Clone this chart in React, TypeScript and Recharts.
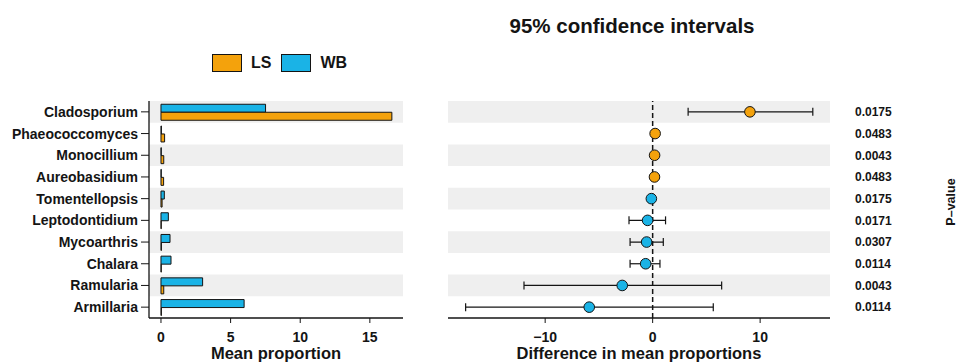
import {
  Bar,
  BarChart,
  ErrorBar,
  ReferenceArea,
  ReferenceLine,
  Scatter,
  ScatterChart,
  XAxis,
  YAxis,
} from "recharts";

// Taxa, top to bottom, with group means (%) and the difference CI panel.
const CATEGORIES = [
  "Cladosporium",
  "Phaeococcomyces",
  "Monocillium",
  "Aureobasidium",
  "Tomentellopsis",
  "Leptodontidium",
  "Mycoarthris",
  "Chalara",
  "Ramularia",
  "Armillaria",
];
const LS_MEAN = [16.58, 0.26, 0.2, 0.19, 0.08, 0.02, 0.03, 0.02, 0.2, 0.03];
const WB_MEAN = [7.51, 0.03, 0.02, 0.02, 0.24, 0.53, 0.65, 0.72, 2.99, 5.97];
const DIFF = [9.05, 0.23, 0.18, 0.17, -0.12, -0.47, -0.56, -0.65, -2.83, -5.9];
const CI_LOW = [3.3, 0.08, 0.06, 0.05, -0.3, -2.2, -2.1, -2.1, -11.97, -17.4];
const CI_HIGH = [14.9, 0.38, 0.3, 0.29, 0.06, 1.2, 0.99, 0.68, 6.42, 5.64];
const P_VALUES = [
  "0.0175",
  "0.0483",
  "0.0043",
  "0.0483",
  "0.0175",
  "0.0171",
  "0.0307",
  "0.0114",
  "0.0043",
  "0.0114",
];
const MEAN_TICKS = [0, 5, 10, 15];
const DIFF_TICKS = [-10, 0, 10];

const ORANGE = "#F4A20C";
const BLUE = "#1AB3E6";
const BAND = "#EFEFEF";
const INK = "#141414";
const FONT = '"Liberation Sans", Arial, Helvetica, sans-serif';

const barData = CATEGORIES.map((name, i) => ({
  name,
  LS: LS_MEAN[i],
  WB: WB_MEAN[i],
}));

const points = CATEGORIES.map((name, i) => ({
  name,
  idx: i,
  diff: DIFF[i],
  err: [DIFF[i] - CI_LOW[i], CI_HIGH[i] - DIFF[i]],
}));
const lsPoints = points.filter((p) => p.diff > 0);
const wbPoints = points.filter((p) => p.diff <= 0);

const shaded = CATEGORIES.map((_, i) => i).filter((i) => i % 2 === 0);

const tickStyle = { fontSize: 14, fontWeight: "bold", fill: INK, fontFamily: FONT };
const titleStyle = { fontSize: 16.5, fontWeight: "bold", fill: INK, fontFamily: FONT };

const dot = (color: string) => (props: any) =>
  <circle cx={props.cx} cy={props.cy} r={5.3} fill={color} stroke={INK} strokeWidth={1} />;

const fmtMinus = (v: number) => (v < 0 ? `\u2212${Math.abs(v)}` : `${v}`);

// bottom tick text, baseline placed a fixed distance below the tick end
const BottomTick = (props: any) => (
  <text
    x={props.x}
    y={props.y + 19}
    textAnchor="middle"
    style={tickStyle}
  >
    {fmtMinus(props.payload.value)}
  </text>
);

function LegendKey({ color, label }: { color: string; label: string }) {
  return (
    <div style={{ display: "flex", alignItems: "center", marginRight: 10 }}>
      <div
        style={{
          width: 28,
          height: 16,
          background: color,
          border: `1.5px solid ${INK}`,
          marginRight: 9,
        }}
      />
      <span style={{ fontSize: 16, fontWeight: "bold", color: INK }}>{label}</span>
    </div>
  );
}

export default function App() {
  return (
    <div
      style={{
        position: "absolute",
        left: 0,
        top: 0,
        width: 960,
        height: 363,
        background: "#fff",
        fontFamily: FONT,
      }}
    >
      <div
        style={{
          position: "absolute",
          left: 432,
          top: 14,
          width: 400,
          textAlign: "center",
          fontSize: 20.5,
          fontWeight: "bold",
          color: INK,
        }}
      >
        95% confidence intervals
      </div>
      <div style={{ position: "absolute", left: 212, top: 54, display: "flex" }}>
        <LegendKey color={ORANGE} label="LS" />
        <LegendKey color={BLUE} label="WB" />
      </div>

      <div style={{ position: "absolute", left: 0, top: 0 }}>
        <BarChart
          width={420}
          height={363}
          data={barData}
          layout="vertical"
          margin={{ top: 101, right: 17, bottom: 0, left: 0 }}
          barCategoryGap="15%"
          barGap={0}
        >
          {shaded.map((i) => (
            <ReferenceArea
              key={i}
              y1={CATEGORIES[i]}
              y2={CATEGORIES[i]}
              fill={BAND}
              fillOpacity={1}
              stroke="none"
            />
          ))}
          <XAxis
            type="number"
            domain={[-0.86, 17.38]}
            allowDataOverflow
            ticks={MEAN_TICKS}
            height={45}
            tick={BottomTick}
            tickSize={5}
            tickMargin={0}
            axisLine={{ stroke: INK, strokeWidth: 1.3 }}
            tickLine={{ stroke: INK }}
            label={{ value: "Mean proportion", position: "insideBottom", offset: 4, style: titleStyle }}
          />
          <YAxis
            type="category"
            dataKey="name"
            width={149}
            interval={0}
            tick={tickStyle}
            tickSize={8}
            tickMargin={3}
            axisLine={{ stroke: INK, strokeWidth: 1.3 }}
            tickLine={{ stroke: INK }}
          />
          <Bar dataKey="WB" fill={BLUE} stroke={INK} strokeWidth={1} isAnimationActive={false} />
          <Bar dataKey="LS" fill={ORANGE} stroke={INK} strokeWidth={1} isAnimationActive={false} />
        </BarChart>
      </div>

      <div style={{ position: "absolute", left: 420, top: 0 }}>
        <ScatterChart
          width={540}
          height={363}
          margin={{ top: 101, right: 0, bottom: 0, left: 28 }}
        >
          {shaded.map((i) => (
            <ReferenceArea
              key={i}
              y1={i - 0.5}
              y2={i + 0.5}
              fill={BAND}
              fillOpacity={1}
              stroke="none"
            />
          ))}
          <XAxis
            type="number"
            dataKey="diff"
            domain={[-19.04, 16.5]}
            allowDataOverflow
            ticks={DIFF_TICKS}
            height={45}
            tick={BottomTick}
            tickSize={5}
            tickMargin={0}
            axisLine={{ stroke: INK, strokeWidth: 1.3 }}
            tickLine={{ stroke: INK }}
            label={{
              value: "Difference in mean proportions",
              position: "insideBottom",
              offset: 4,
              style: titleStyle,
            }}
          />
          <YAxis
            type="number"
            dataKey="idx"
            orientation="right"
            reversed
            domain={[-0.5, 9.5]}
            allowDataOverflow
            ticks={CATEGORIES.map((_, i) => i)}
            interval={0}
            tickFormatter={(v: number) => P_VALUES[v] ?? ""}
            width={130}
            axisLine={false}
            tickLine={false}
            tickSize={0}
            tickMargin={25}
            tick={{ ...tickStyle, fontSize: 12, textAnchor: "start" }}
            label={{
              position: "insideRight",
              content: () => (
                <text
                  x={531}
                  y={202}
                  transform="rotate(-90 531 202)"
                  textAnchor="middle"
                  dominantBaseline="central"
                  style={{ ...tickStyle, fontSize: 12.5 }}
                >
                  P–value
                </text>
              ),
            }}
          />
          <ReferenceLine x={0} stroke={INK} strokeWidth={1.5} strokeDasharray="5 3" />
          <Scatter data={lsPoints} shape={dot(ORANGE)} isAnimationActive={false}>
            <ErrorBar dataKey="err" direction="x" width={4} stroke={INK} strokeWidth={1.2} />
          </Scatter>
          <Scatter data={wbPoints} shape={dot(BLUE)} isAnimationActive={false}>
            <ErrorBar dataKey="err" direction="x" width={4} stroke={INK} strokeWidth={1.2} />
          </Scatter>
        </ScatterChart>
      </div>
    </div>
  );
}
